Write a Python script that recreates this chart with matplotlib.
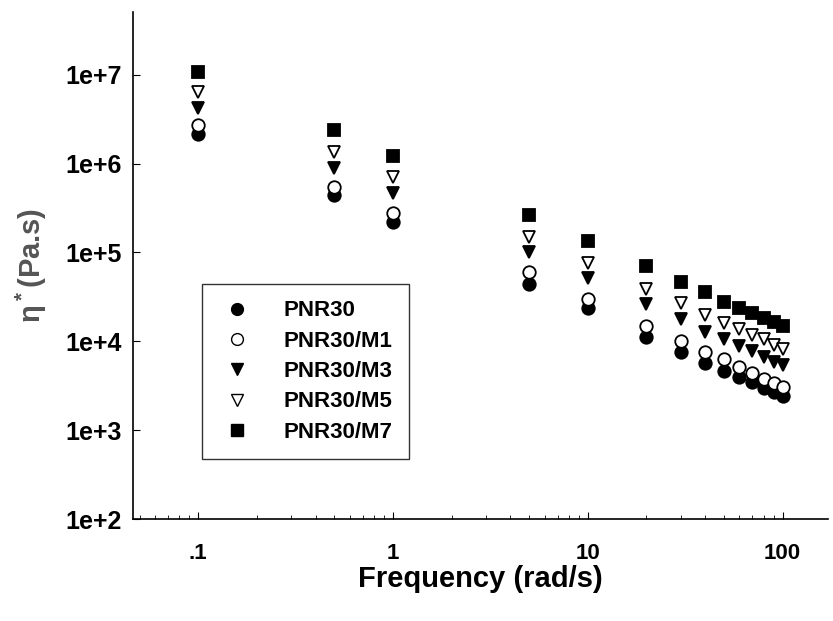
import matplotlib
matplotlib.use("Agg")
import matplotlib.pyplot as plt
from matplotlib.ticker import FixedLocator, FixedFormatter, LogLocator, NullFormatter

plt.rcParams['font.family'] = ['Liberation Sans', 'DejaVu Sans']
plt.rcParams['font.weight'] = 'bold'

freq = [0.1, 0.5, 1, 5, 10, 20, 30, 40, 50, 60, 70, 80, 90, 100]

pnr30 = [2.17e6, 4.4e5, 2.2e5, 4.4e4, 2.35e4, 1.11e4, 7.5e3, 5.65e3, 4.7e3, 4.0e3, 3.47e3, 2.95e3, 2.7e3, 2.4e3]
pnr30_m1 = [2.7e6, 5.5e5, 2.8e5, 5.96e4, 3.0e4, 1.48e4, 1.0e4, 7.5e3, 6.3e3, 5.1e3, 4.4e3, 3.8e3, 3.4e3, 3.1e3]
pnr30_m3 = [4.2e6, 9.0e5, 4.7e5, 1.0e5, 5.1e4, 2.6e4, 1.77e4, 1.29e4, 1.05e4, 8.8e3, 7.8e3, 6.6e3, 5.8e3, 5.4e3]
pnr30_m5 = [6.3e6, 1.36e6, 7.1e5, 1.5e5, 7.7e4, 3.84e4, 2.67e4, 2.0e4, 1.6e4, 1.36e4, 1.17e4, 1.05e4, 9.2e3, 8.3e3]
pnr30_m7 = [1.08e7, 2.4e6, 1.23e6, 2.67e5, 1.36e5, 7.0e4, 4.7e4, 3.55e4, 2.8e4, 2.35e4, 2.07e4, 1.82e4, 1.63e4, 1.48e4]

labels = ['PNR30', 'PNR30/M1', 'PNR30/M3', 'PNR30/M5', 'PNR30/M7']
series = [pnr30, pnr30_m1, pnr30_m3, pnr30_m5, pnr30_m7]
markers = ['o', 'o', 'v', 'v', 's']
faces = ['black', 'white', 'black', 'white', 'black']

x_ticks = [0.1, 1, 10, 100]
x_ticklabels = ['.1', '1', '10', '100']
y_ticks = [1e2, 1e3, 1e4, 1e5, 1e6, 1e7]
y_ticklabels = ['1e+2', '1e+3', '1e+4', '1e+5', '1e+6', '1e+7']

fig = plt.figure(figsize=(8.33, 6.21), dpi=100)
ax = fig.add_axes([0.16, 0.164, 0.834, 0.816])

for vals, lab, m, fc in zip(series, labels, markers, faces):
    ax.plot(freq, vals, linestyle='none', marker=m, markersize=9,
            markerfacecolor=fc, markeredgecolor='black', markeredgewidth=1.3,
            label=lab)

ax.set_xscale('log')
ax.set_yscale('log')
ax.set_xlim(0.0464, 171)
ax.set_ylim(1e2, 10 ** 7.7)

ax.xaxis.set_major_locator(FixedLocator(x_ticks))
ax.xaxis.set_major_formatter(FixedFormatter(x_ticklabels))
ax.xaxis.set_minor_locator(LogLocator(base=10, subs=range(2, 10)))
ax.xaxis.set_minor_formatter(NullFormatter())
ax.yaxis.set_major_locator(FixedLocator(y_ticks))
ax.yaxis.set_major_formatter(FixedFormatter(y_ticklabels))
ax.yaxis.set_minor_formatter(NullFormatter())
ax.yaxis.set_minor_locator(FixedLocator([]))

ax.tick_params(axis='both', which='major', direction='in', length=5)
ax.tick_params(axis='x', which='major', labelsize=16, pad=17)
ax.tick_params(axis='y', which='major', labelsize=18, pad=8)
ax.tick_params(axis='x', which='minor', direction='in', length=3)

for s in ['top', 'right']:
    ax.spines[s].set_visible(False)
for s in ['left', 'bottom']:
    ax.spines[s].set_linewidth(1.2)

ax.set_xlabel('Frequency (rad/s)', fontsize=21, fontweight='bold', labelpad=1)
ax.set_ylabel(r'$\mathregular{\eta^*}$(Pa.s)', fontsize=21, fontweight='bold',
              color='#555555', labelpad=12)

leg = ax.legend(loc='lower left', bbox_to_anchor=(0.099, 0.118), fontsize=16,
                frameon=True, fancybox=False, edgecolor='black',
                handletextpad=1.3, labelspacing=0.42, borderpad=0.75,
                handlelength=1.6, borderaxespad=0)
leg.get_frame().set_linewidth(1.0)
for h in leg.legend_handles:
    h.set_markersize(8.5)
    h.set_markeredgewidth(1.0)

fig.savefig('out.png', dpi=100)
